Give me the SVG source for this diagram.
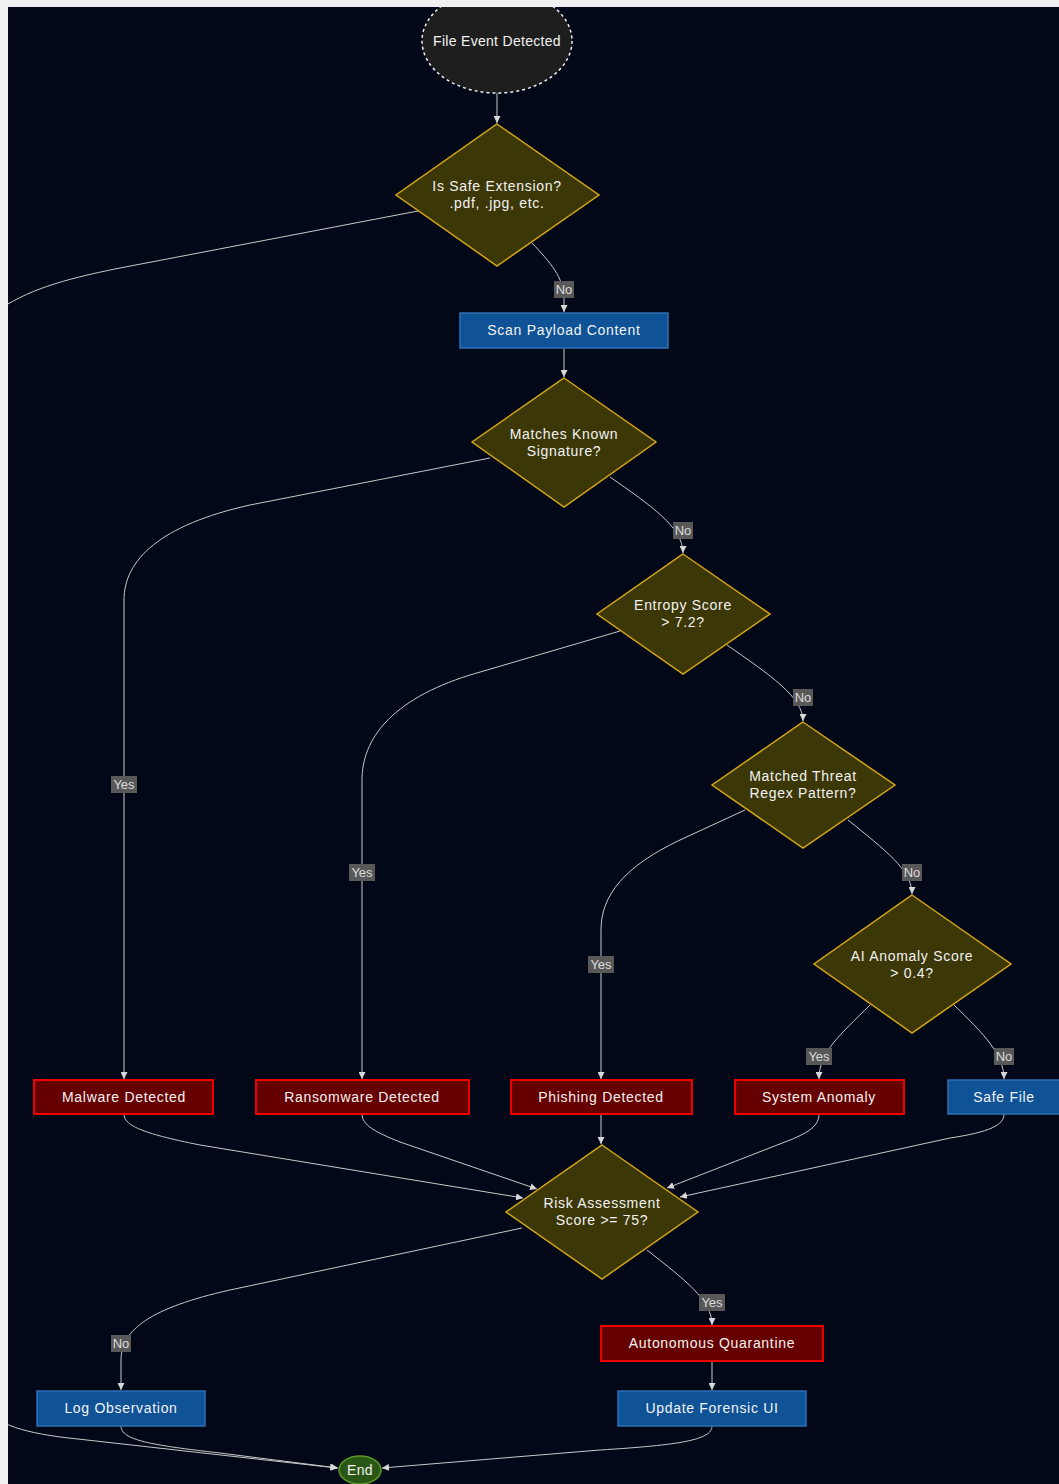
<svg xmlns="http://www.w3.org/2000/svg" width="1059" height="1484" viewBox="0 0 1059 1484">
<defs>
<style>
.t{font-family:"Liberation Sans",Arial,sans-serif;font-size:14px;fill:#f2f2f2;text-anchor:middle;letter-spacing:0.7px}
.dia{fill:#3c3707;stroke:#d4a514;stroke-width:1.5}
.red{fill:#660000;stroke:#ee0000;stroke-width:2}
.blue{fill:#0f5296;stroke:#2f6fb4;stroke-width:1.5}
.e{fill:none;stroke:#c8c8c8;stroke-width:1;marker-end:url(#arr)}
.lb{fill:#585858}
.lt{font-family:"Liberation Sans",Arial,sans-serif;font-size:13px;fill:#dcdcdc;text-anchor:middle}
</style>
<marker id="arr" viewBox="0 0 10 10" refX="10" refY="5" markerWidth="7" markerHeight="7" markerUnits="userSpaceOnUse" orient="auto">
<path d="M0,0 L10,5 L0,10 z" fill="#d8d8d8"/>
</marker>
</defs>
<rect x="0" y="0" width="1059" height="1484" fill="#f1f1f1"/>
<rect x="8" y="7" width="1051" height="1477" fill="#020817"/>

<g id="connectors">
<path class="e" d="M497,93 L497,123"/>
<path class="e" d="M418,211 L120,268 C60,280 28,290 -5,312 L-20,1400 C-10,1420 10,1430 60,1437 L337,1468"/>
<path class="e" d="M532,243 C550,262 564,278 564,298 L564,312"/>
<path class="e" d="M564,348 L564,377"/>
<path class="e" d="M490,458 L250,505 C160,525 124,560 124,600 L124,1079"/>
<path class="e" d="M610,477 C650,505 683,527 683,553"/>
<path class="e" d="M620,631 L470,675 C390,700 362,740 362,780 L362,1079"/>
<path class="e" d="M727,645 C770,675 803,697 803,721"/>
<path class="e" d="M745,810 L680,840 C625,866 601,895 601,930 L601,1079"/>
<path class="e" d="M848,820 C885,850 912,870 912,894"/>
<path class="e" d="M870,1005 C840,1035 819,1052 819,1079"/>
<path class="e" d="M954,1005 C985,1035 1004,1055 1004,1079"/>
<path class="e" d="M124,1114 C124,1125 140,1133 200,1145 L523,1198"/>
<path class="e" d="M362,1114 C362,1125 375,1132 400,1142 L537,1189"/>
<path class="e" d="M601,1114 L601,1144"/>
<path class="e" d="M819,1114 C819,1125 810,1132 790,1140 L667,1188"/>
<path class="e" d="M1004,1114 C1004,1125 990,1132 950,1138 L680,1197"/>
<path class="e" d="M522,1228 L230,1290 C150,1308 121,1330 121,1360 L121,1390"/>
<path class="e" d="M647,1250 C685,1280 712,1300 712,1325"/>
<path class="e" d="M712,1361 L712,1390"/>
<path class="e" d="M121,1426 C121,1440 150,1445 220,1453 L338,1468"/>
<path class="e" d="M712,1426 C712,1440 680,1445 600,1450 L382,1468"/>
<g id="edge-labels">
<rect class="lb" x="554" y="281" width="20" height="17"/><text class="lt" x="564" y="294">No</text>
<rect class="lb" x="111" y="776" width="26" height="17"/><text class="lt" x="124" y="789">Yes</text>
<rect class="lb" x="673" y="522" width="20" height="17"/><text class="lt" x="683" y="535">No</text>
<rect class="lb" x="349" y="864" width="26" height="17"/><text class="lt" x="362" y="877">Yes</text>
<rect class="lb" x="793" y="689" width="20" height="17"/><text class="lt" x="803" y="702">No</text>
<rect class="lb" x="588" y="956" width="26" height="17"/><text class="lt" x="601" y="969">Yes</text>
<rect class="lb" x="902" y="864" width="20" height="17"/><text class="lt" x="912" y="877">No</text>
<rect class="lb" x="806" y="1048" width="26" height="17"/><text class="lt" x="819" y="1061">Yes</text>
<rect class="lb" x="994" y="1048" width="20" height="17"/><text class="lt" x="1004" y="1061">No</text>
<rect class="lb" x="111" y="1335" width="20" height="17"/><text class="lt" x="121" y="1348">No</text>
<rect class="lb" x="699" y="1294" width="26" height="17"/><text class="lt" x="712" y="1307">Yes</text>
</g>
</g>

<g id="start">
<ellipse cx="497" cy="41" rx="75" ry="52" fill="#1e1e1e" stroke="#f0f0f0" stroke-width="1.5" stroke-dasharray="3 3"/>
<text class="t" x="497" y="46" style="letter-spacing:0.3px">File Event Detected</text>
</g>
<g id="safeExt">
<polygon class="dia" points="497,124 599,195 497,266 396,195"/>
<text class="t" x="497" y="191">Is Safe Extension?</text>
<text class="t" x="497" y="208">.pdf, .jpg, etc.</text>
</g>
<g id="scan">
<rect class="blue" x="460" y="313" width="208" height="35"/>
<text class="t" x="564" y="335">Scan Payload Content</text>
</g>
<g id="signature">
<polygon class="dia" points="564,378 656,442 564,507 472,442"/>
<text class="t" x="564" y="439">Matches Known</text>
<text class="t" x="564" y="456">Signature?</text>
</g>
<g id="entropy">
<polygon class="dia" points="683,554 770,614 683,674 597,614"/>
<text class="t" x="683" y="610">Entropy Score</text>
<text class="t" x="683" y="627">&gt; 7.2?</text>
</g>
<g id="regex">
<polygon class="dia" points="803,722 895,785 803,848 712,785"/>
<text class="t" x="803" y="781">Matched Threat</text>
<text class="t" x="803" y="798">Regex Pattern?</text>
</g>
<g id="ai">
<polygon class="dia" points="912,895 1011,964 912,1033 814,964"/>
<text class="t" x="912" y="961">AI Anomaly Score</text>
<text class="t" x="912" y="978">&gt; 0.4?</text>
</g>
<g id="malware">
<rect class="red" x="34" y="1080" width="179" height="34"/>
<text class="t" x="124" y="1102">Malware Detected</text>
</g>
<g id="ransomware">
<rect class="red" x="256" y="1080" width="213" height="34"/>
<text class="t" x="362" y="1102">Ransomware Detected</text>
</g>
<g id="phishing">
<rect class="red" x="511" y="1080" width="181" height="34"/>
<text class="t" x="601" y="1102">Phishing Detected</text>
</g>
<g id="anomaly">
<rect class="red" x="735" y="1080" width="169" height="34"/>
<text class="t" x="819" y="1102">System Anomaly</text>
</g>
<g id="safeFile">
<rect class="blue" x="948" y="1080" width="120" height="34"/>
<text class="t" x="1004" y="1102">Safe File</text>
</g>
<g id="risk">
<polygon class="dia" points="602,1145 698,1212 602,1279 506,1212"/>
<text class="t" x="602" y="1208">Risk Assessment</text>
<text class="t" x="602" y="1225">Score &gt;= 75?</text>
</g>
<g id="quarantine">
<rect class="red" x="601" y="1326" width="222" height="35"/>
<text class="t" x="712" y="1348">Autonomous Quarantine</text>
</g>
<g id="log">
<rect class="blue" x="37" y="1391" width="168" height="35"/>
<text class="t" x="121" y="1413">Log Observation</text>
</g>
<g id="forensic">
<rect class="blue" x="618" y="1391" width="188" height="35"/>
<text class="t" x="712" y="1413">Update Forensic UI</text>
</g>
<g id="end">
<ellipse cx="360" cy="1470" rx="21" ry="14" fill="#2b5716" stroke="#5a9a2a" stroke-width="1.5"/>
<text class="t" x="360" y="1475" style="letter-spacing:0.3px">End</text>
</g>
<rect x="0" y="0" width="8" height="1484" fill="#f1f1f1"/>
<rect x="0" y="0" width="1059" height="7" fill="#f1f1f1"/>
</svg>
